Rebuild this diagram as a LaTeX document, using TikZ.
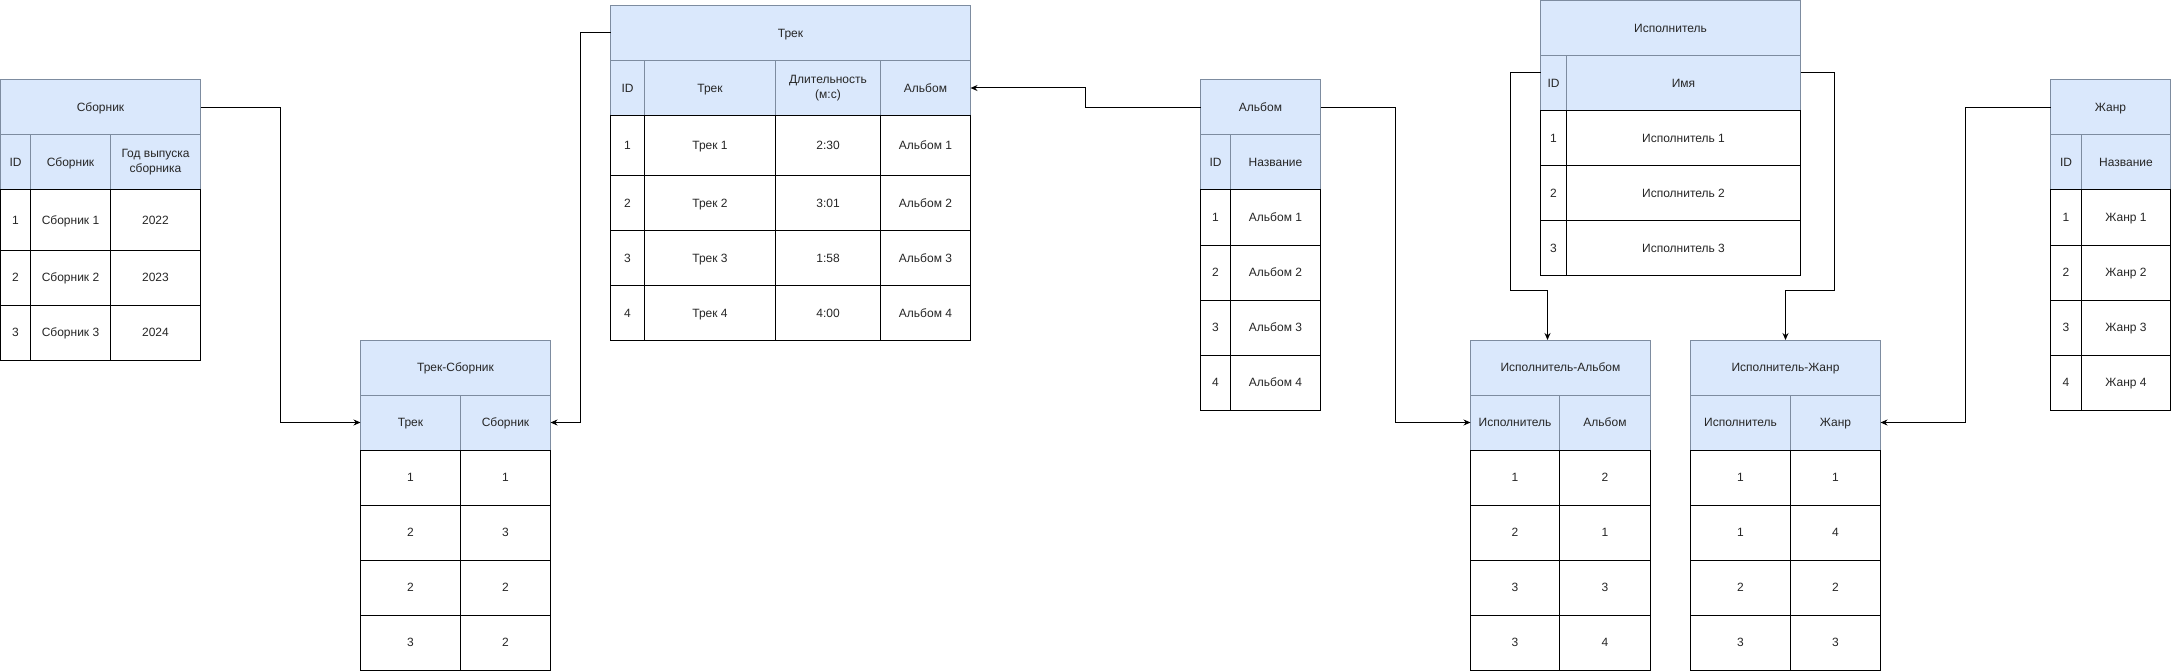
\documentclass[tikz,border=0pt]{standalone}
\usepackage{fontspec}
\setmainfont{Liberation Sans}
\usetikzlibrary{arrows.meta}

\definecolor{hdrfill}{HTML}{DAE8FC}
\definecolor{hdrline}{RGB}{125,140,160}

\tikzset{
  tbl/.style={anchor=north west, inner sep=0pt, outer sep=0pt, line width=1pt,
    align=center, text=black!85, font=\fontsize{12}{15}\selectfont,
    text height=8.6pt, text depth=0pt},
  twoline/.style={text height={}, text depth={}},
  hdr/.style={tbl, draw=hdrline, fill=hdrfill},
  cell/.style={tbl, draw=black, fill=white},
  link/.style={draw=black, line width=1pt, -{Stealth[length=7pt,width=6pt]}}
}

\begin{document}
\begin{tikzpicture}[x=1pt, y=-1pt]
\useasboundingbox (0,0) rectangle (2171,671);

% Сборник
\node[hdr, minimum width=200, minimum height=55] (sb-t) at (0.5,80) {Сборник};
\node[hdr, minimum width=30, minimum height=55] (sb-h1) at (0.5,135) {ID};
\node[hdr, minimum width=80, minimum height=55] (sb-h2) at (30.5,135) {Сборник};
\node[hdr, twoline, minimum width=90, minimum height=55] (sb-h3) at (110.5,135) {Год выпуска\\сборника};
\foreach \y/\h/\ta/\tb/\tc [count=\n] in {190/60/1/Сборник 1/2022, 250/55/2/Сборник 2/2023, 305/55/3/Сборник 3/2024}{
  \node[cell, minimum width=30, minimum height=\h] (sb-\n-1) at (0.5,\y) {\ta};
  \node[cell, minimum width=80, minimum height=\h] (sb-\n-2) at (30.5,\y) {\tb};
  \node[cell, minimum width=90, minimum height=\h] (sb-\n-3) at (110.5,\y) {\tc};
}

% Трек
\node[hdr, minimum width=360, minimum height=55] (tr-t) at (610.5,5.5) {Трек};
\node[hdr, minimum width=34, minimum height=55] (tr-h1) at (610.5,60.5) {ID};
\node[hdr, minimum width=131, minimum height=55] (tr-h2) at (644.5,60.5) {Трек};
\node[hdr, twoline, minimum width=105, minimum height=55] (tr-h3) at (775.5,60.5) {Длительность\\(м:с)};
\node[hdr, minimum width=90, minimum height=55] (tr-h4) at (880.5,60.5) {Альбом};
\foreach \y/\h/\ta/\tb/\tc/\td [count=\n] in {115.5/60/1/Трек 1/2:30/Альбом 1, 175.5/55/2/Трек 2/3:01/Альбом 2,
    230.5/55/3/Трек 3/1:58/Альбом 3, 285.5/55/4/Трек 4/4:00/Альбом 4}{
  \node[cell, minimum width=34, minimum height=\h] (tr-\n-1) at (610.5,\y) {\ta};
  \node[cell, minimum width=131, minimum height=\h] (tr-\n-2) at (644.5,\y) {\tb};
  \node[cell, minimum width=105, minimum height=\h] (tr-\n-3) at (775.5,\y) {\tc};
  \node[cell, minimum width=90, minimum height=\h] (tr-\n-4) at (880.5,\y) {\td};
}

% Трек-Сборник
\node[hdr, minimum width=190, minimum height=55] (ts-t) at (360.5,340) {Трек-Сборник};
\node[hdr, minimum width=100, minimum height=55] (ts-h1) at (360.5,395) {Трек};
\node[hdr, minimum width=90, minimum height=55] (ts-h2) at (460.5,395) {Сборник};
\foreach \y/\ta/\tb [count=\n] in {450/1/1, 505/2/3, 560/2/2, 615/3/2}{
  \node[cell, minimum width=100, minimum height=55] (ts-\n-1) at (360.5,\y) {\ta};
  \node[cell, minimum width=90, minimum height=55] (ts-\n-2) at (460.5,\y) {\tb};
}

% Альбом
\node[hdr, minimum width=120, minimum height=55] (al-t) at (1200.5,80) {Альбом};
\node[hdr, minimum width=30, minimum height=55] (al-h1) at (1200.5,135) {ID};
\node[hdr, minimum width=90, minimum height=55] (al-h2) at (1230.5,135) {Название};
\foreach \y/\ta/\tb [count=\n] in {190/1/Альбом 1, 245/2/Альбом 2, 300/3/Альбом 3, 355/4/Альбом 4}{
  \node[cell, minimum width=30, minimum height=55] (al-\n-1) at (1200.5,\y) {\ta};
  \node[cell, minimum width=90, minimum height=55] (al-\n-2) at (1230.5,\y) {\tb};
}

% Исполнитель
\node[hdr, minimum width=260, minimum height=55] (is-t) at (1540.5,0.5) {Исполнитель};
\node[hdr, minimum width=26, minimum height=55] (is-h1) at (1540.5,55.5) {ID};
\node[hdr, minimum width=234, minimum height=55] (is-h2) at (1566.5,55.5) {Имя};
\foreach \y/\ta/\tb [count=\n] in {110.5/1/Исполнитель 1, 165.5/2/Исполнитель 2, 220.5/3/Исполнитель 3}{
  \node[cell, minimum width=26, minimum height=55] (is-\n-1) at (1540.5,\y) {\ta};
  \node[cell, minimum width=234, minimum height=55] (is-\n-2) at (1566.5,\y) {\tb};
}

% Исполнитель-Альбом
\node[hdr, minimum width=180, minimum height=55] (ia-t) at (1470.5,340) {Исполнитель-Альбом};
\node[hdr, minimum width=89, minimum height=55] (ia-h1) at (1470.5,395) {Исполнитель};
\node[hdr, minimum width=91, minimum height=55] (ia-h2) at (1559.5,395) {Альбом};
\foreach \y/\ta/\tb [count=\n] in {450/1/2, 505/2/1, 560/3/3, 615/3/4}{
  \node[cell, minimum width=89, minimum height=55] (ia-\n-1) at (1470.5,\y) {\ta};
  \node[cell, minimum width=91, minimum height=55] (ia-\n-2) at (1559.5,\y) {\tb};
}

% Исполнитель-Жанр
\node[hdr, minimum width=190, minimum height=55] (ij-t) at (1690.5,340) {Исполнитель-Жанр};
\node[hdr, minimum width=100, minimum height=55] (ij-h1) at (1690.5,395) {Исполнитель};
\node[hdr, minimum width=90, minimum height=55] (ij-h2) at (1790.5,395) {Жанр};
\foreach \y/\ta/\tb [count=\n] in {450/1/1, 505/1/4, 560/2/2, 615/3/3}{
  \node[cell, minimum width=100, minimum height=55] (ij-\n-1) at (1690.5,\y) {\ta};
  \node[cell, minimum width=90, minimum height=55] (ij-\n-2) at (1790.5,\y) {\tb};
}

% Жанр
\node[hdr, minimum width=120, minimum height=55] (gn-t) at (2050.5,80) {Жанр};
\node[hdr, minimum width=31, minimum height=55] (gn-h1) at (2050.5,135) {ID};
\node[hdr, minimum width=89, minimum height=55] (gn-h2) at (2081.5,135) {Название};
\foreach \y/\ta/\tb [count=\n] in {190/1/Жанр 1, 245/2/Жанр 2, 300/3/Жанр 3, 355/4/Жанр 4}{
  \node[cell, minimum width=31, minimum height=55] (gn-\n-1) at (2050.5,\y) {\ta};
  \node[cell, minimum width=89, minimum height=55] (gn-\n-2) at (2081.5,\y) {\tb};
}

% связи
\draw[link] (sb-t.east) -- ++(80,0) |- (ts-h1.west);
\draw[link] (tr-t.west) -- ++(-30,0) |- (ts-h2.east);
\draw[link] (al-t.west) -- ++(-115,0) |- (tr-h4.east);
\draw[link] (al-t.east) -- ++(75,0) |- (ia-h1.west);
\draw[link] ([yshift=10pt]is-h1.west) -- ++(-30,0) -- ++(0,217.5) -| ([xshift=-13pt]ia-t.north);
\draw[link] ([yshift=10pt]is-h2.east) -- ++(34,0) -- ++(0,217.5) -| (ij-t.north);
\draw[link] (gn-t.west) -- ++(-85,0) |- (ij-h2.east);
\end{tikzpicture}
\end{document}
